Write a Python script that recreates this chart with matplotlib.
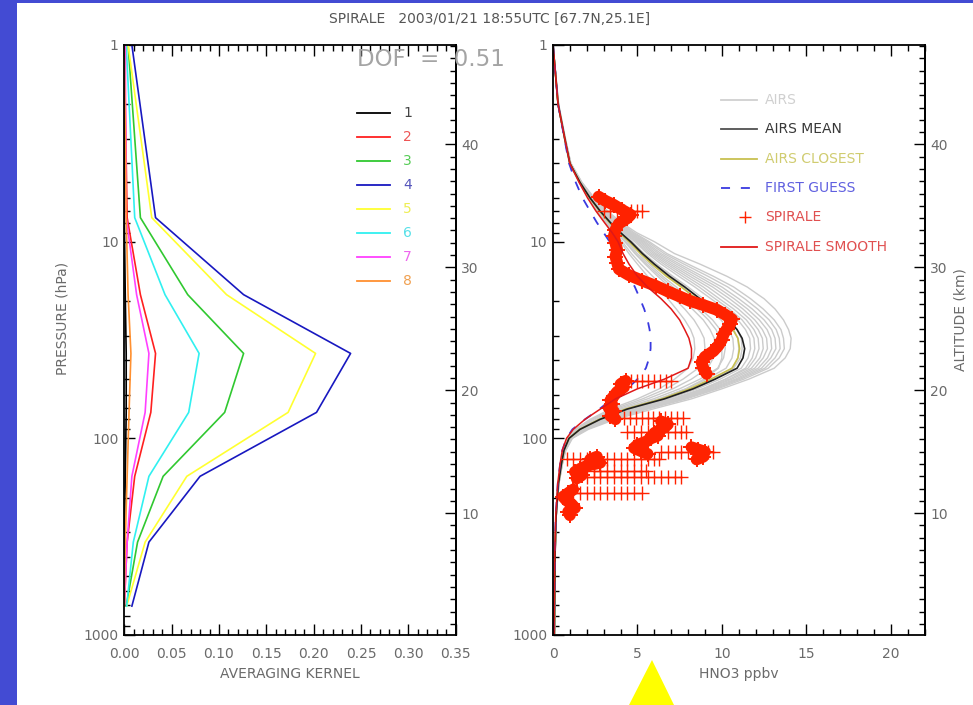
import numpy as np
import matplotlib
matplotlib.use('Agg')
import matplotlib.pyplot as plt
from matplotlib.ticker import (FixedLocator, MultipleLocator, LogLocator,
                               NullFormatter, FormatStrFormatter, FixedFormatter)
from matplotlib.patches import Rectangle, Polygon

plt.rcParams['font.family'] = ['DejaVu Sans']

titulo = 'SPIRALE   2003/01/21 18:55UTC [67.7N,25.1E]'
dof_texto = 'DOF  =  0.51'

# ---------------- painel esquerdo: kernels de media ----------------
kernel_p = [1.0, 7.55, 18.6, 37.0, 73.8, 156.0, 337.0, 713.0]
kernel_1 = [0.000, 0.000, 0.001, 0.002, 0.002, 0.001, 0.000, 0.000]
kernel_2 = [0.000, 0.003, 0.017, 0.033, 0.028, 0.011, 0.003, 0.000]
kernel_3 = [0.004, 0.017, 0.067, 0.126, 0.106, 0.041, 0.014, 0.002]
kernel_4 = [0.008, 0.033, 0.126, 0.239, 0.203, 0.080, 0.026, 0.008]
kernel_5 = [0.004, 0.029, 0.108, 0.202, 0.173, 0.066, 0.022, 0.0025]
kernel_6 = [0.002, 0.011, 0.043, 0.079, 0.068, 0.026, 0.0095, 0.0025]
kernel_7 = [0.001, 0.002, 0.013, 0.026, 0.022, 0.008, 0.003, 0.000]
kernel_8 = [0.000, 0.002, 0.004, 0.007, 0.005, 0.003, 0.001, 0.000]
kernels = [kernel_1, kernel_2, kernel_3, kernel_4,
           kernel_5, kernel_6, kernel_7, kernel_8]
kernel_nomes = ['1', '2', '3', '4', '5', '6', '7', '8']

# ---------------- painel direito: perfis de HNO3 ----------------
niveis_p = [1, 2, 3, 4, 5, 6, 7, 8, 9, 10, 11.5, 13, 15, 17, 19.5, 22, 25, 28, 31, 35,
            39, 44, 50, 56, 63, 71, 80, 90, 100, 115, 135, 170, 250, 400, 1000]

airs_perfis = [
    [0, .29, .68, .97, 1.55, 2.1, 2.6, 3.1, 3.55, 4.0, 4.5, 5.0, 5.6, 6.2, 6.8, 7.3, 7.8, 8.15, 8.35, 8.4, 8.3, 8.0, 7.2, 6.3, 5.0, 3.4, 2.2, 1.3, 0.85, 0.6, 0.47, 0.3, 0.17, 0.11, 0.07],
    [0, .29, .68, .98, 1.56, 2.12, 2.65, 3.15, 3.65, 4.1, 4.65, 5.2, 5.9, 6.55, 7.2, 7.8, 8.35, 8.7, 8.95, 9.0, 8.9, 8.6, 7.7, 6.7, 5.3, 3.6, 2.3, 1.35, 0.87, 0.6, 0.47, 0.3, 0.17, 0.11, 0.07],
    [0, .3, .69, .98, 1.57, 2.15, 2.7, 3.2, 3.75, 4.25, 4.85, 5.45, 6.2, 6.9, 7.6, 8.25, 8.9, 9.3, 9.55, 9.6, 9.5, 9.15, 8.2, 7.1, 5.6, 3.8, 2.4, 1.4, 0.9, 0.62, 0.48, 0.31, 0.17, 0.11, 0.07],
    [0, .3, .69, .99, 1.58, 2.16, 2.74, 3.28, 3.8, 4.3, 4.9, 5.55, 6.35, 7.1, 7.85, 8.55, 9.2, 9.65, 9.9, 10.0, 10.0, 9.8, 8.95, 7.85, 6.3, 4.3, 2.7, 1.5, 0.92, 0.63, 0.49, 0.31, 0.18, 0.12, 0.08],
    [0, .3, .69, .99, 1.58, 2.17, 2.75, 3.3, 3.85, 4.4, 5.0, 5.7, 6.5, 7.3, 8.05, 8.75, 9.45, 9.9, 10.15, 10.2, 10.1, 9.75, 8.7, 7.5, 5.95, 4.0, 2.55, 1.45, 0.92, 0.63, 0.49, 0.31, 0.18, 0.12, 0.08],
    [0, .3, .7, 1.0, 1.59, 2.19, 2.8, 3.35, 3.95, 4.55, 5.2, 5.9, 6.8, 7.65, 8.45, 9.2, 9.95, 10.4, 10.65, 10.7, 10.6, 10.25, 9.1, 7.9, 6.25, 4.2, 2.7, 1.55, 0.93, 0.64, 0.5, 0.32, 0.18, 0.12, 0.08],
    [0, .3, .7, 1.0, 1.6, 2.2, 2.82, 3.4, 4.0, 4.62, 5.3, 6.05, 7.0, 7.85, 8.7, 9.5, 10.25, 10.7, 10.95, 11.0, 10.95, 10.65, 9.6, 8.4, 6.8, 4.6, 2.9, 1.62, 0.96, 0.65, 0.5, 0.32, 0.18, 0.12, 0.08],
    [0, .3, .7, 1.0, 1.6, 2.21, 2.83, 3.42, 4.05, 4.7, 5.4, 6.15, 7.1, 8.0, 8.9, 9.7, 10.45, 10.9, 11.15, 11.2, 11.1, 10.7, 9.5, 8.25, 6.55, 4.45, 2.85, 1.6, 0.95, 0.65, 0.5, 0.32, 0.18, 0.12, 0.08],
    [0, .31, .71, 1.01, 1.62, 2.24, 2.88, 3.5, 4.15, 4.85, 5.6, 6.4, 7.45, 8.4, 9.35, 10.2, 10.95, 11.4, 11.65, 11.7, 11.55, 11.15, 9.9, 8.55, 6.8, 4.65, 3.0, 1.7, 1.0, 0.67, 0.51, 0.33, 0.18, 0.12, 0.08],
    [0, .31, .71, 1.01, 1.63, 2.26, 2.92, 3.55, 4.22, 4.95, 5.72, 6.58, 7.68, 8.65, 9.6, 10.45, 11.2, 11.65, 11.9, 11.95, 11.8, 11.4, 10.2, 8.9, 7.15, 4.9, 3.1, 1.75, 1.02, 0.68, 0.52, 0.33, 0.18, 0.12, 0.08],
    [0, .31, .71, 1.02, 1.64, 2.28, 2.95, 3.6, 4.3, 5.05, 5.85, 6.75, 7.9, 8.9, 9.85, 10.7, 11.45, 11.9, 12.15, 12.2, 12.0, 11.55, 10.25, 8.85, 7.05, 4.85, 3.1, 1.75, 1.02, 0.68, 0.52, 0.33, 0.18, 0.12, 0.08],
    [0, .31, .72, 1.03, 1.65, 2.3, 2.98, 3.65, 4.38, 5.15, 5.98, 6.92, 8.12, 9.18, 10.15, 10.98, 11.7, 12.15, 12.4, 12.45, 12.25, 11.75, 10.45, 9.0, 7.2, 4.95, 3.15, 1.8, 1.04, 0.69, 0.53, 0.34, 0.19, 0.12, 0.08],
    [0, .32, .72, 1.03, 1.66, 2.32, 3.02, 3.7, 4.45, 5.25, 6.1, 7.1, 8.35, 9.45, 10.45, 11.25, 11.95, 12.4, 12.65, 12.7, 12.45, 11.95, 10.6, 9.15, 7.35, 5.1, 3.25, 1.85, 1.05, 0.7, 0.53, 0.34, 0.19, 0.12, 0.08],
    [0, .32, .72, 1.04, 1.67, 2.34, 3.06, 3.76, 4.52, 5.35, 6.25, 7.3, 8.6, 9.72, 10.72, 11.52, 12.22, 12.68, 12.9, 12.95, 12.7, 12.15, 10.8, 9.3, 7.5, 5.25, 3.3, 1.9, 1.06, 0.71, 0.53, 0.34, 0.19, 0.12, 0.08],
    [0, .32, .72, 1.04, 1.68, 2.36, 3.1, 3.82, 4.6, 5.45, 6.4, 7.5, 8.85, 10.0, 11.0, 11.8, 12.5, 12.95, 13.15, 13.2, 12.9, 12.35, 10.95, 9.45, 7.6, 5.35, 3.4, 1.95, 1.08, 0.72, 0.54, 0.34, 0.19, 0.12, 0.08],
    [0, .33, .73, 1.05, 1.69, 2.38, 3.13, 3.88, 4.7, 5.58, 6.58, 7.75, 9.18, 10.35, 11.35, 12.12, 12.8, 13.22, 13.4, 13.45, 13.15, 12.55, 11.1, 9.6, 7.75, 5.45, 3.45, 1.98, 1.1, 0.73, 0.55, 0.35, 0.19, 0.12, 0.08],
    [0, .33, .73, 1.05, 1.7, 2.4, 3.17, 3.95, 4.8, 5.7, 6.75, 8.0, 9.5, 10.7, 11.7, 12.45, 13.1, 13.5, 13.65, 13.7, 13.4, 12.75, 11.3, 9.75, 7.9, 5.6, 3.55, 2.0, 1.12, 0.74, 0.55, 0.35, 0.19, 0.12, 0.08],
    [0, .33, .74, 1.06, 1.72, 2.45, 3.25, 4.05, 4.95, 6.0, 7.2, 8.7, 10.3, 11.5, 12.5, 13.15, 13.65, 13.95, 14.1, 14.05, 13.75, 13.1, 11.6, 10.0, 8.2, 5.9, 3.7, 2.1, 1.15, 0.76, 0.56, 0.35, 0.19, 0.12, 0.08],
]
airs_media = [0, 0.3, 0.7, 1.0, 1.6, 2.2, 2.8, 3.4, 4.0, 4.6, 5.3, 6.0, 6.9, 7.8, 8.7, 9.5, 10.4, 10.9, 11.2, 11.35,
              11.25, 10.9, 9.6, 8.3, 6.6, 4.4, 2.8, 1.6, 0.95, 0.65, 0.5, 0.32, 0.18, 0.12, 0.08]
airs_proximo = [0, 0.3, 0.7, 1.0, 1.6, 2.18, 2.77, 3.35, 3.93, 4.5, 5.18, 5.85, 6.72, 7.6, 8.5, 9.3, 10.15, 10.65, 10.95, 11.05,
                10.95, 10.6, 9.35, 8.1, 6.45, 4.3, 2.75, 1.58, 0.94, 0.65, 0.5, 0.32, 0.18, 0.12, 0.08]
primeira_estimativa = [0, 0.3, 0.68, 0.95, 1.35, 1.75, 2.2, 2.6, 3.0, 3.35, 3.8, 4.15, 4.5, 4.85, 5.15, 5.4, 5.6, 5.72, 5.78, 5.78,
                       5.7, 5.5, 5.0, 4.4, 3.5, 2.75, 1.9, 1.15, 0.8, 0.55, 0.42, 0.28, 0.16, 0.1, 0.06]
spirale_suave = [0, 0.3, 0.7, 1.0, 1.55, 2.05, 2.55, 3.05, 3.5, 3.85, 4.15, 4.5, 5.0, 5.6, 6.4, 7.0, 7.5, 7.8, 8.05, 8.2,
                 8.2, 8.0, 6.6, 5.0, 3.7, 2.8, 1.9, 1.2, 0.8, 0.55, 0.42, 0.28, 0.16, 0.1, 0.06]

# medidas SPIRALE: trechos densos da descida
spirale_a_p = [5.9, 6.2, 6.5, 6.9, 7.3, 7.6, 8.1, 8.7, 9.4, 10.2, 11.0, 11.9, 12.8, 13.8,
               14.8, 15.8, 16.8, 17.9, 19.0, 20.0, 21.0, 22.2, 23.5, 24.8, 26.2, 27.8,
               29.5, 31.5, 33.7, 36.0, 38.5, 41.0, 44.0, 47.0]
spirale_a_x = [2.7, 3.1, 3.6, 4.1, 4.6, 4.4, 3.9, 3.7, 3.6, 3.7, 3.8, 3.7, 3.8, 3.9,
               4.5, 5.3, 6.1, 6.8, 7.5, 8.1, 8.9, 9.7, 10.2, 10.6, 10.5, 10.3,
               10.1, 10.0, 9.8, 9.5, 9.0, 8.8, 8.9, 9.1]
spirale_b_p = [51, 53, 55, 58, 61, 64, 67, 70, 73, 77, 80]
spirale_b_x = [4.3, 4.0, 4.2, 3.8, 3.6, 3.4, 3.5, 3.3, 3.6, 3.4, 3.7]
spirale_c_p = [82, 85, 88, 91, 94, 97, 100, 104, 108, 112, 116, 120]
spirale_c_x = [6.4, 6.8, 6.6, 6.3, 6.0, 6.2, 5.8, 5.5, 5.0, 4.8, 5.2, 5.6]
spirale_d_p = [111, 114, 117, 120, 124, 128]
spirale_d_x = [8.2, 8.6, 9.0, 8.7, 8.9, 8.5]
spirale_e_p = [124, 128, 133, 138, 143, 148, 154, 160]
spirale_e_x = [2.6, 2.2, 2.8, 2.0, 1.6, 1.3, 1.7, 1.4]
spirale_f_p = [182, 190, 198, 207, 216, 226, 236, 246]
spirale_f_x = [1.2, 0.9, 0.6, 0.8, 1.1, 1.3, 0.9, 1.0]
# saltos horizontais (mesma pressao, valores dispersos)
salto_p = [7.0, 51, 79, 93, 117, 128, 146, 157, 190]
salto_x = [
    [3.0, 3.4, 3.8, 4.2, 4.6, 5.0, 5.3],
    [4.6, 4.95, 5.3, 5.65, 6.0, 6.35, 6.7, 7.0],
    [4.2, 4.55, 4.9, 5.25, 5.6, 5.95, 6.3, 6.65, 7.0, 7.35, 7.7],
    [4.4, 4.8, 5.2, 5.6, 6.0, 6.4, 6.8, 7.2, 7.6, 7.9],
    [6.4, 6.8, 7.2, 7.6, 8.0, 8.4, 8.8, 9.2, 9.5],
    [0.8, 1.2, 1.6, 2.0, 2.4, 2.8, 3.2, 3.6, 4.0, 4.4, 4.8, 5.2, 5.6, 6.0, 6.3],
    [2.4, 2.8, 3.2, 3.6, 4.0, 4.4, 4.8, 5.2, 5.5],
    [2.0, 2.4, 2.8, 3.2, 3.6, 4.0, 4.4, 4.8, 5.2, 5.6, 6.0, 6.4, 6.8, 7.2, 7.6],
    [1.2, 1.6, 2.0, 2.4, 2.8, 3.2, 3.6, 4.0, 4.4, 4.8, 5.3],
]

legenda_dir = ['AIRS', 'AIRS MEAN', 'AIRS CLOSEST', 'FIRST GUESS', 'SPIRALE', 'SPIRALE SMOOTH']

# ---------------- estilos ----------------
cinza_txt = '#6a6a6a'
cores_kernel = ['#000000', '#ff2020', '#30c830', '#1818c0', '#ffff30', '#30f0f0', '#ff40ff', '#ff9030']
cores_kernel_txt = ['#444444', '#ee5555', '#55cc55', '#5555bb', '#eeee55', '#55e0e8', '#ee66ee', '#f0a050']
vermelho = '#ff2200'

L, H = 973.0, 705.0


def p_para_z(p):
    p = np.clip(np.asarray(p, dtype=float), 1e-6, None)
    return 16.0 * np.log10(1013.25 / p)


def z_para_p(z):
    return 1013.25 * 10 ** (-np.asarray(z, dtype=float) / 16.0)


def prepara_eixo(ax, xmax, xmaior, xmenor, fmt):
    ax.set_yscale('log')
    ax.set_ylim(1000, 1)
    ax.set_xlim(0, xmax)
    ax.yaxis.set_major_locator(FixedLocator([1, 10, 100, 1000]))
    ax.yaxis.set_major_formatter(FixedFormatter(['1', '10', '100', '1000']))
    ax.yaxis.set_minor_locator(LogLocator(base=10, subs=range(2, 10)))
    ax.yaxis.set_minor_formatter(NullFormatter())
    ax.xaxis.set_major_locator(MultipleLocator(xmaior))
    ax.xaxis.set_minor_locator(MultipleLocator(xmenor))
    ax.xaxis.set_major_formatter(FormatStrFormatter(fmt))
    ax.tick_params(which='both', direction='in', color='black', width=1,
                   labelcolor=cinza_txt, labelsize=10,
                   bottom=True, top=True, left=True, right=False,
                   labelbottom=True, labeltop=False)
    ax.tick_params(which='major', length=8)
    ax.tick_params(which='minor', length=4)
    ax.tick_params(axis='x', which='both', pad=9)
    ax.tick_params(axis='y', which='both', pad=4)
    for s in ax.spines.values():
        s.set_linewidth(1.3)

    # altitude no lado direito
    alt = ax.secondary_yaxis('right', functions=(p_para_z, z_para_p))
    alt.yaxis.set_major_locator(FixedLocator([10, 20, 30, 40]))
    alt.yaxis.set_major_formatter(FormatStrFormatter('%d'))
    alt.yaxis.set_minor_locator(MultipleLocator(1))
    alt.yaxis.set_minor_formatter(NullFormatter())
    alt.yaxis.set_tick_params(which='both', direction='in', color='black', width=1,
                              labelcolor=cinza_txt, labelsize=10, pad=4)
    alt.yaxis.set_tick_params(which='major', length=8)
    alt.yaxis.set_tick_params(which='minor', length=4)
    alt.spines['right'].set_linewidth(1.3)


fig = plt.figure(figsize=(9.73, 7.05), dpi=100)
fig.patch.set_facecolor('white')

# texto de fundo, desenhado antes dos paineis
fig.text(357 / L, 1 - 60 / H, dof_texto, ha='left', va='center', fontsize=16.5,
         color='#a4a4a4')

ax1 = fig.add_axes([124.3 / L, 70 / H, 331.4 / L, 590 / H])
ax2 = fig.add_axes([553 / L, 70 / H, 371.5 / L, 590 / H])
ax1.set_facecolor('none')
ax2.set_facecolor('none')

prepara_eixo(ax1, 0.35, 0.05, 0.01, '%.2f')
prepara_eixo(ax2, 22, 5, 1, '%d')

# kernels
for k, cor in zip(kernels, cores_kernel):
    ax1.plot(k, kernel_p, color=cor, lw=1.2)

for i, (nome, cor, cor_t) in enumerate(zip(kernel_nomes, cores_kernel, cores_kernel_txt)):
    y = 0.885 - i * 0.0407
    ax1.plot([0.702, 0.802], [y, y], transform=ax1.transAxes, color=cor, lw=1.3)
    ax1.text(0.841, y, nome, transform=ax1.transAxes, color=cor_t,
             fontsize=10, va='center', ha='left')

ax1.set_xlabel('AVERAGING KERNEL', color=cinza_txt, fontsize=10, labelpad=4)

# perfis AIRS e medidas
for perfil in airs_perfis:
    ax2.plot(perfil, niveis_p, color='#cbcbcb', lw=1.0)
ax2.plot(airs_proximo, niveis_p, color='#c8c050', lw=1.2)
ax2.plot(airs_media, niveis_p, color='#202020', lw=1.2)
ax2.plot(primeira_estimativa, niveis_p, color='#3a3ae0', lw=1.3, dashes=(5, 6))

trechos = [(spirale_a_x, spirale_a_p), (spirale_b_x, spirale_b_p),
           (spirale_c_x, spirale_c_p), (spirale_d_x, spirale_d_p),
           (spirale_e_x, spirale_e_p), (spirale_f_x, spirale_f_p)]
for tx, tp in trechos:
    ax2.plot(tx, tp, color=vermelho, lw=8.5, solid_capstyle='round', solid_joinstyle='round')
    ax2.plot(tx, tp, '+', color=vermelho, ms=12, mew=1.4)
for sp, sx in zip(salto_p, salto_x):
    ax2.plot(sx, [sp] * len(sx), '-+', color=vermelho, lw=0.8, ms=10, mew=1.0)

ax2.plot(spirale_suave, niveis_p, color='#e01818', lw=1.1)

ax2.set_xlabel('HNO3 ppbv', color=cinza_txt, fontsize=10, labelpad=4)

# legenda do painel direito
estilos_leg = [dict(color='#d0d0d0'), dict(color='#505050'), dict(color='#c8c050'),
               dict(color='#3a3ae0', dashes=(5, 6)), None, dict(color='#e01818')]
cores_leg_txt = ['#d0d0d0', '#383838', '#d0cc70', '#6060e0', '#e05050', '#e05050']
for i, (rot, est, cor_t) in enumerate(zip(legenda_dir, estilos_leg, cores_leg_txt)):
    y = 0.907 - i * 0.0498
    if est is None:
        ax2.plot([0.517], [y], '+', transform=ax2.transAxes, color=vermelho, ms=8, mew=1.0)
    else:
        ax2.plot([0.452, 0.549], [y, y], transform=ax2.transAxes, lw=1.3, **est)
    ax2.text(0.571, y, rot, transform=ax2.transAxes, color=cor_t,
             fontsize=10, va='center', ha='left')

# textos da figura
fig.text(490 / L, 1 - 19 / H, titulo, ha='center', va='center', fontsize=10, color='#555555')
fig.text(62 / L, 1 - 318 / H, 'PRESSURE (hPa)', ha='center', va='center',
         rotation=90, fontsize=10, color=cinza_txt)
fig.text(960 / L, 1 - 320 / H, 'ALTITUDE (km)', ha='center', va='center',
         rotation=90, fontsize=10, color=cinza_txt)

# moldura do slide
fig.add_artist(Rectangle((0, 0), 17 / L, 1, transform=fig.transFigure,
                         facecolor='#434bd3', edgecolor='none'))
fig.add_artist(Rectangle((0, 1 - 3 / H), 1, 3 / H, transform=fig.transFigure,
                         facecolor='#434bd3', edgecolor='none'))
fig.add_artist(Polygon([(652 / L, 1 - 660 / H), (629 / L, 0), (674 / L, 0)],
                       closed=True, transform=fig.transFigure,
                       facecolor='#ffff00', edgecolor='none'))

fig.savefig('out.png', dpi=100)
